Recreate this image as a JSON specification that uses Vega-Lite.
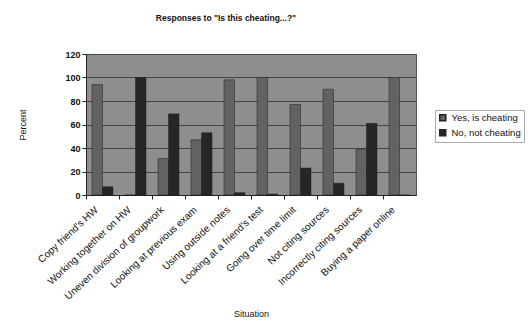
{
  "$schema": "https://vega.github.io/schema/vega-lite/v6.json",
  "width": 330,
  "height": 141,
  "autosize": {"type": "none"},
  "padding": {"left": 86, "top": 54, "right": 116, "bottom": 135},
  "background": "white",
  "title": {
    "text": "Responses to \"Is this cheating...?\"",
    "font": "Liberation Sans",
    "fontSize": 8.5,
    "fontWeight": "bold",
    "color": "#111",
    "anchor": "middle",
    "dx": -25,
    "offset": 28
  },
  "data": {
    "values": [
      {"situation": "Copy friend's HW", "answer": "Yes, is cheating", "percent": 94},
      {"situation": "Copy friend's HW", "answer": "No, not cheating", "percent": 7},
      {"situation": "Working together on HW", "answer": "Yes, is cheating", "percent": 0},
      {"situation": "Working together on HW", "answer": "No, not cheating", "percent": 100},
      {"situation": "Uneven division of groupwork", "answer": "Yes, is cheating", "percent": 31},
      {"situation": "Uneven division of groupwork", "answer": "No, not cheating", "percent": 69},
      {"situation": "Looking at previous exam", "answer": "Yes, is cheating", "percent": 47},
      {"situation": "Looking at previous exam", "answer": "No, not cheating", "percent": 53},
      {"situation": "Using outside notes", "answer": "Yes, is cheating", "percent": 98},
      {"situation": "Using outside notes", "answer": "No, not cheating", "percent": 2},
      {"situation": "Looking at a friend's test", "answer": "Yes, is cheating", "percent": 100},
      {"situation": "Looking at a friend's test", "answer": "No, not cheating", "percent": 0.8},
      {"situation": "Going over time limit", "answer": "Yes, is cheating", "percent": 77},
      {"situation": "Going over time limit", "answer": "No, not cheating", "percent": 23},
      {"situation": "Not citing sources", "answer": "Yes, is cheating", "percent": 90},
      {"situation": "Not citing sources", "answer": "No, not cheating", "percent": 10},
      {"situation": "Incorrectly citing sources", "answer": "Yes, is cheating", "percent": 39},
      {"situation": "Incorrectly citing sources", "answer": "No, not cheating", "percent": 61},
      {"situation": "Buying a paper online", "answer": "Yes, is cheating", "percent": 100},
      {"situation": "Buying a paper online", "answer": "No, not cheating", "percent": 0}
    ]
  },
  "mark": {"type": "bar", "stroke": "#222", "strokeWidth": 0.5},
  "encoding": {
    "x": {
      "field": "situation",
      "type": "nominal",
      "sort": null,
      "title": "Situation",
      "scale": {"paddingInner": 0, "paddingOuter": 0},
      "axis": {
        "labelAngle": -43,
        "labelAlign": "right",
        "labelBaseline": "middle",
        "labelFont": "Liberation Sans",
        "labelFontSize": 10,
        "labelColor": "#111",
        "labelPadding": 9,
        "bandPosition": 0,
        "labelOffset": -6,
        "tickColor": "#222",
        "tickSize": 4,
        "domainColor": "#222",
        "titleFont": "Liberation Sans",
        "titleFontSize": 9,
        "titleFontWeight": "normal",
        "titleColor": "#111",
        "titlePadding": 8
      }
    },
    "xOffset": {
      "field": "answer",
      "type": "nominal",
      "sort": ["Yes, is cheating", "No, not cheating"],
      "scale": {"paddingInner": 0, "paddingOuter": 0.57}
    },
    "y": {
      "field": "percent",
      "type": "quantitative",
      "title": "Percent",
      "scale": {"domain": [0, 120], "nice": false},
      "axis": {
        "values": [0, 20, 40, 60, 80, 100, 120],
        "labelFont": "Liberation Sans",
        "labelFontSize": 9,
        "labelFontWeight": "bold",
        "labelColor": "#111",
        "gridColor": "#444",
        "gridWidth": 1,
        "tickColor": "#222",
        "tickSize": 4,
        "domainColor": "#222",
        "titleFont": "Liberation Sans",
        "titleFontSize": 9,
        "titleFontWeight": "normal",
        "titleColor": "#111",
        "titlePadding": 37
      }
    },
    "color": {
      "field": "answer",
      "type": "nominal",
      "sort": ["Yes, is cheating", "No, not cheating"],
      "scale": {"domain": ["Yes, is cheating", "No, not cheating"], "range": ["#626262", "#262626"]},
      "legend": {
        "title": null,
        "orient": "none",
        "legendX": 349,
        "legendY": 56,
        "symbolType": "square",
        "symbolSize": 36,
        "labelFont": "Liberation Sans",
        "labelFontSize": 9.5,
        "labelColor": "#111",
        "strokeColor": "#aaa",
        "padding": 3,
        "rowPadding": 2
      }
    }
  },
  "config": {
    "view": {"fill": "#8e8e8e", "stroke": "#555"}
  }
}
